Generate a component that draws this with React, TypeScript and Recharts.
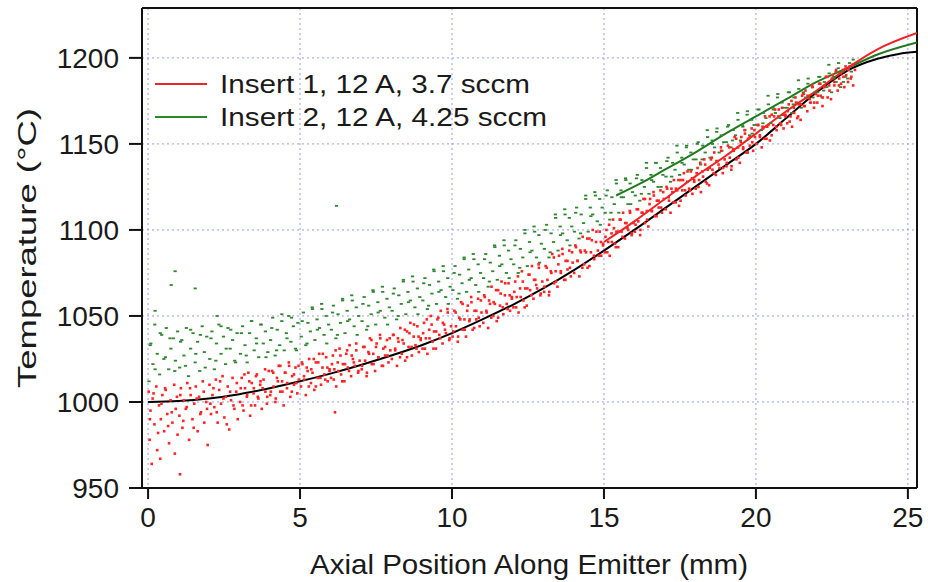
import { ComposedChart, Scatter, Line, XAxis, YAxis, CartesianGrid, ReferenceLine } from 'recharts'

const xTicks = [0, 5, 10, 15, 20, 25]
const yTicks = [950, 1000, 1050, 1100, 1150, 1200]

const seriesNames = ['Insert 1, 12 A, 3.7 sccm', 'Insert 2, 12 A, 4.25 sccm']

// Insert 1 measurements (red cloud)
const insert1Points: [number, number][] = [
  [0.02,1006],[0.05,978],[0.08,995],[0.12,964],[0.15,1002],[0.21,987],[0.27,1009],[0.3,972],[0.36,998],[0.42,990],[0.47,1004],[0.53,983],[0.58,1007],[0.63,993],[0.69,976],[0.74,1001],[0.8,988],[0.86,1010],[0.91,996],[0.97,981],
  [0.4,967],[1.05,958],
  [1.03,992],[1.08,1008],[1.13,985],[1.18,1001],[1.24,996],[1.29,1011],[1.35,978],[1.4,1004],[1.46,990],[1.52,999],[1.57,1009],[1.63,983],[1.68,1003],[1.74,994],[1.8,1012],[1.85,988],[1.91,1000],[1.96,975],
  [2.02,1010],[2.07,993],[2.12,1004],[2.18,997],[2.23,1013],[2.29,988],[2.34,1007],[2.4,999],[2.45,1015],[2.51,991],[2.56,1003],[2.62,1009],[2.67,984],[2.73,1001],[2.78,1014],[2.84,996],[2.9,1006],[2.95,990],
  [3.03,1000],[3.08,1014],[3.14,995],[3.19,1008],[3.25,1003],[3.3,1017],[3.36,992],[3.41,1011],[3.47,1005],[3.52,998],[3.58,1016],[3.63,1002],[3.69,1010],[3.74,996],[3.8,1013],[3.86,1006],[3.91,999],[3.97,1018],
  [4.02,1004],[4.08,1018],[4.13,1009],[4.19,1000],[4.24,1014],[4.3,1021],[4.35,1006],[4.41,1012],[4.46,998],[4.52,1017],[4.57,1008],[4.63,1023],[4.68,1003],[4.74,1015],[4.8,1010],[4.85,1020],[4.91,1005],[4.96,1013],
  [5.03,1009],[5.08,1022],[5.14,1013],[5.19,1004],[5.25,1018],[5.3,1025],[5.36,1011],[5.41,1017],[5.47,1007],[5.52,1023],[5.58,1014],[5.63,1028],[5.69,1010],[5.74,1020],[5.8,1016],[5.86,1026],[5.91,1012],[5.97,1019],
  [6.15,994],
  [6.02,1014],[6.08,1027],[6.13,1019],[6.19,1009],[6.24,1023],[6.3,1031],[6.35,1016],[6.41,1022],[6.46,1012],[6.52,1028],[6.57,1020],[6.63,1033],[6.68,1015],[6.74,1025],[6.8,1021],[6.85,1030],[6.91,1017],[6.96,1024],
  [7.03,1019],[7.08,1032],[7.14,1024],[7.19,1015],[7.25,1029],[7.3,1037],[7.36,1022],[7.41,1028],[7.47,1018],[7.52,1034],[7.58,1026],[7.63,1039],[7.69,1021],[7.74,1031],[7.8,1027],[7.86,1036],[7.91,1023],[7.97,1030],
  [8.02,1025],[8.08,1039],[8.13,1030],[8.19,1021],[8.24,1035],[8.3,1043],[8.35,1028],[8.41,1034],[8.46,1024],[8.52,1041],[8.57,1032],[8.63,1046],[8.68,1027],[8.74,1038],[8.8,1033],[8.86,1044],[8.91,1029],[8.97,1037],
  [9.03,1031],[9.08,1046],[9.14,1037],[9.19,1028],[9.25,1042],[9.3,1050],[9.36,1035],[9.41,1041],[9.47,1031],[9.52,1048],[9.58,1039],[9.63,1053],[9.69,1034],[9.74,1045],[9.8,1040],[9.86,1052],[9.91,1036],[9.97,1044],
  [10.02,1038],[10.08,1053],[10.13,1044],[10.19,1035],[10.24,1049],[10.3,1058],[10.35,1042],[10.41,1048],[10.46,1038],[10.52,1056],[10.57,1047],[10.63,1061],[10.68,1042],[10.74,1053],[10.8,1048],[10.86,1060],[10.91,1044],[10.97,1052],
  [11.03,1046],[11.08,1061],[11.14,1052],[11.19,1043],[11.25,1057],[11.3,1067],[11.36,1050],[11.41,1057],[11.47,1047],[11.52,1065],[11.58,1056],[11.63,1070],[11.69,1051],[11.74,1062],[11.8,1057],[11.86,1069],[11.91,1053],[11.97,1061],
  [12.02,1055],[12.08,1070],[12.13,1061],[12.19,1052],[12.24,1066],[12.3,1076],[12.35,1059],[12.41,1066],[12.46,1056],[12.52,1074],[12.57,1065],[12.63,1079],[12.68,1060],[12.74,1071],[12.8,1066],[12.86,1078],[12.91,1062],[12.97,1070],
  [13.03,1064],[13.08,1079],[13.14,1071],[13.19,1062],[13.25,1076],[13.3,1086],[13.36,1069],[13.41,1076],[13.47,1067],[13.52,1085],[13.58,1076],[13.63,1089],[13.69,1071],[13.74,1082],[13.8,1077],[13.86,1088],[13.91,1073],[13.97,1081],
  [14.02,1075],[14.08,1090],[14.13,1082],[14.19,1073],[14.24,1087],[14.3,1096],[14.35,1080],[14.41,1087],[14.46,1078],[14.52,1095],[14.57,1087],[14.63,1100],[14.68,1083],[14.74,1093],[14.8,1088],[14.86,1099],[14.91,1085],[14.97,1092],
  [15.03,1087],[15.08,1100],[15.14,1093],[15.19,1085],[15.25,1098],[15.3,1106],[15.36,1092],[15.41,1099],[15.47,1090],[15.52,1106],[15.58,1099],[15.63,1110],[15.69,1095],[15.74,1104],[15.8,1100],[15.86,1110],[15.91,1097],[15.97,1104],
  [16.02,1099],[16.08,1112],[16.13,1105],[16.19,1097],[16.24,1110],[16.3,1118],[16.35,1104],[16.41,1111],[16.46,1102],[16.52,1118],[16.57,1111],[16.63,1122],[16.68,1108],[16.74,1117],[16.8,1113],[16.86,1123],[16.91,1110],[16.97,1118],
  [17.03,1112],[17.08,1124],[17.14,1117],[17.19,1110],[17.25,1122],[17.3,1129],[17.36,1116],[17.41,1123],[17.47,1114],[17.52,1129],[17.58,1123],[17.63,1133],[17.69,1120],[17.74,1128],[17.8,1124],[17.86,1134],[17.91,1121],[17.97,1129],
  [18.02,1124],[18.08,1136],[18.13,1129],[18.19,1122],[18.24,1134],[18.3,1141],[18.35,1128],[18.41,1135],[18.46,1126],[18.52,1141],[18.57,1135],[18.63,1145],[18.68,1132],[18.74,1140],[18.8,1136],[18.86,1146],[18.91,1133],[18.97,1141],
  [19.03,1137],[19.08,1149],[19.14,1142],[19.19,1135],[19.25,1147],[19.3,1154],[19.36,1141],[19.41,1148],[19.47,1139],[19.52,1154],[19.58,1148],[19.63,1158],[19.69,1145],[19.74,1153],[19.8,1149],[19.86,1159],[19.91,1146],[19.97,1154],
  [20.02,1150],[20.08,1161],[20.13,1154],[20.19,1148],[20.24,1159],[20.3,1166],[20.35,1153],[20.41,1161],[20.46,1152],[20.52,1167],[20.57,1161],[20.63,1170],[20.68,1158],[20.74,1166],[20.8,1162],[20.86,1171],[20.91,1159],[20.97,1167],
  [21.03,1162],[21.08,1173],[21.14,1166],[21.19,1160],[21.25,1171],[21.3,1177],[21.36,1165],[21.41,1173],[21.47,1164],[21.52,1178],[21.58,1172],[21.63,1181],[21.69,1169],[21.74,1177],[21.8,1174],[21.86,1183],[21.91,1171],[21.97,1179],
  [22.02,1174],[22.08,1185],[22.13,1178],[22.19,1172],[22.25,1183],[22.3,1189],[22.36,1177],[22.41,1184],[22.47,1176],[22.52,1190],[22.58,1184],[22.63,1192],[22.69,1181],[22.74,1188],[22.8,1185],[22.86,1193],[22.91,1183],[22.97,1190],
  [23.03,1186],[23.08,1195],[23.14,1189],[23.2,1184],[23.26,1193],
]

// second pass over the red cloud, the points between the ones above
const insert1More: [number, number][] = [
  [0.06,990],[0.18,1005],[0.33,982],[0.44,999],[0.56,1008],[0.66,986],[0.78,994],[0.88,970],[0.95,1003],
  [1.06,1004],[1.16,989],[1.27,997],[1.38,1008],[1.5,985],[1.6,1002],[1.72,993],[1.83,1006],[1.94,996],
  [2.05,999],[2.15,1008],[2.26,994],[2.37,1012],[2.48,1002],[2.59,987],[2.7,1006],[2.81,998],[2.92,1011],
  [3.05,1008],[3.11,998],[3.17,1016],[3.26,1004],[3.33,1012],[3.39,998],[3.48,1008],[3.55,1015],[3.61,1003],[3.7,1012],[3.77,1008],[3.85,1019],[3.92,1003],
  [4.04,1006],[4.12,1017],[4.2,1002],[4.27,1012],[4.35,1021],[4.42,1006],[4.5,1017],[4.58,1011],[4.64,1021],[4.73,1006],[4.8,1016],[4.88,1011],[4.95,1021],
  [5.06,1023],[5.13,1015],[5.22,1020],[5.29,1009],[5.37,1019],[5.45,1025],[5.52,1009],[5.6,1023],[5.67,1014],[5.75,1028],[5.83,1013],[5.9,1020],[5.97,1018],
  [6.05,1022],[6.11,1013],[6.17,1030],[6.26,1018],[6.33,1027],[6.39,1012],[6.48,1022],[6.55,1030],[6.61,1018],[6.7,1027],[6.77,1023],[6.85,1034],[6.92,1018],
  [7.04,1021],[7.12,1032],[7.2,1017],[7.27,1028],[7.35,1036],[7.42,1022],[7.5,1032],[7.58,1026],[7.64,1037],[7.73,1021],[7.8,1032],[7.88,1027],[7.95,1037],
  [8.06,1039],[8.13,1031],[8.22,1037],[8.29,1026],[8.37,1036],[8.45,1042],[8.52,1026],[8.6,1040],[8.67,1032],[8.75,1045],[8.83,1031],[8.9,1038],[8.97,1036],
  [9.05,1040],[9.11,1031],[9.17,1048],[9.26,1037],[9.33,1045],[9.39,1031],[9.48,1041],[9.55,1049],[9.61,1037],[9.7,1046],[9.77,1042],[9.85,1054],[9.92,1037],
  [10.04,1041],[10.12,1052],[10.2,1038],[10.27,1048],[10.35,1057],[10.42,1042],[10.5,1053],[10.58,1048],[10.64,1058],[10.73,1043],[10.8,1053],[10.88,1049],[10.95,1059],
  [11.06,1062],[11.13,1053],[11.22,1059],[11.29,1049],[11.37,1058],[11.45,1065],[11.52,1049],[11.6,1063],[11.67,1055],[11.75,1069],[11.83,1054],[11.9,1062],[11.97,1060],
  [12.05,1064],[12.11,1055],[12.17,1073],[12.26,1061],[12.33,1070],[12.39,1055],[12.48,1066],[12.55,1074],[12.61,1062],[12.7,1071],[12.77,1068],[12.85,1080],[12.92,1063],
  [13.04,1067],[13.12,1078],[13.2,1064],[13.27,1075],[13.35,1084],[13.42,1070],[13.5,1080],[13.58,1075],[13.64,1086],[13.73,1071],[13.8,1082],[13.88,1078],[13.95,1087],
  [14.06,1091],[14.13,1082],[14.22,1088],[14.29,1078],[14.37,1088],[14.45,1095],[14.52,1079],[14.6,1094],[14.67,1085],[14.75,1099],[14.83,1085],[14.9,1093],[14.97,1091],
  [15.05,1096],[15.11,1087],[15.17,1103],[15.26,1093],[15.33,1101],[15.39,1090],[15.48,1099],[15.55,1106],[15.61,1096],[15.7,1104],[15.77,1101],[15.85,1111],[15.92,1098],
  [16.04,1103],[16.12,1112],[16.2,1100],[16.27,1110],[16.35,1118],[16.42,1106],[16.5,1115],[16.58,1111],[16.64,1120],[16.73,1108],[16.8,1117],[16.88,1113],[16.95,1122],
  [17.06,1125],[17.13,1119],[17.22,1124],[17.29,1116],[17.37,1124],[17.45,1129],[17.52,1117],[17.6,1129],[17.67,1123],[17.75,1134],[17.83,1123],[17.9,1130],[17.97,1128],
  [18.05,1133],[18.11,1125],[18.17,1139],[18.26,1131],[18.33,1138],[18.39,1127],[18.48,1136],[18.55,1142],[18.61,1133],[18.7,1140],[18.77,1138],[18.85,1148],[18.92,1136],
  [19.04,1139],[19.12,1148],[19.2,1137],[19.27,1146],[19.35,1153],[19.42,1142],[19.5,1151],[19.58,1147],[19.64,1156],[19.73,1145],[19.8,1154],[19.88,1151],[19.95,1158],
  [20.06,1161],[20.13,1155],[20.22,1160],[20.29,1153],[20.37,1160],[20.45,1166],[20.52,1155],[20.6,1166],[20.67,1160],[20.75,1170],[20.83,1161],[20.9,1167],[20.97,1166],
  [21.05,1169],[21.11,1163],[21.17,1175],[21.26,1168],[21.33,1174],[21.39,1166],[21.48,1173],[21.55,1179],[21.61,1172],[21.7,1178],[21.77,1176],[21.85,1184],[21.92,1174],
  [22.04,1178],[22.12,1185],[22.2,1177],[22.27,1184],[22.35,1189],[22.42,1181],[22.5,1188],[22.58,1186],[22.64,1193],[22.73,1184],[22.8,1191],[22.88,1189],[22.95,1195],
  [23.05,1193],[23.12,1188],[23.18,1196],
]

// Insert 2 measurements (green cloud)
const insert2Points: [number, number][] = [
  [0.03,1012],[0.09,1034],[0.16,1022],[0.22,1045],[0.3,1028],[0.38,1016],[0.45,1039],[0.52,1025],[0.6,1043],[0.68,1019],[0.75,1031],[0.83,1037],[0.9,1024],[0.97,1041],
  [0.76,1068],[0.89,1076],[1.55,1066],[6.2,1114],[0.23,1053],[2.27,1050],
  [1.04,1020],[1.11,1036],[1.18,1027],[1.26,1043],[1.33,1015],[1.4,1031],[1.48,1040],[1.55,1023],[1.63,1035],[1.7,1018],[1.78,1044],[1.85,1029],[1.93,1038],
  [2.03,1025],[2.1,1041],[2.18,1019],[2.25,1034],[2.33,1045],[2.4,1028],[2.48,1038],[2.55,1022],[2.63,1043],[2.7,1031],[2.78,1036],[2.85,1024],[2.93,1040],
  [3.04,1028],[3.11,1044],[3.19,1033],[3.26,1023],[3.34,1040],[3.41,1047],[3.49,1030],[3.56,1037],[3.64,1026],[3.71,1045],[3.79,1034],[3.86,1041],[3.94,1029],
  [4.03,1036],[4.1,1049],[4.18,1027],[4.25,1042],[4.33,1033],[4.4,1047],[4.48,1030],[4.55,1040],[4.63,1050],[4.7,1035],[4.78,1044],[4.85,1031],[4.93,1046],
  [5.04,1038],[5.11,1052],[5.19,1033],[5.26,1046],[5.34,1041],[5.41,1054],[5.49,1036],[5.56,1048],[5.64,1043],[5.71,1057],[5.79,1039],[5.86,1050],[5.94,1045],
  [6.03,1042],[6.1,1056],[6.18,1037],[6.25,1051],[6.33,1046],[6.4,1059],[6.48,1040],[6.55,1053],[6.63,1048],[6.7,1062],[6.78,1044],[6.85,1055],[6.93,1050],
  [7.04,1047],[7.11,1061],[7.19,1042],[7.26,1056],[7.34,1051],[7.41,1064],[7.49,1045],[7.56,1058],[7.64,1053],[7.71,1067],[7.79,1049],[7.86,1060],[7.94,1055],
  [8.03,1053],[8.1,1066],[8.18,1048],[8.25,1062],[8.33,1057],[8.4,1070],[8.48,1051],[8.55,1064],[8.63,1059],[8.7,1073],[8.78,1055],[8.86,1066],[8.94,1061],
  [9.04,1059],[9.11,1072],[9.19,1054],[9.26,1068],[9.34,1063],[9.41,1076],[9.49,1057],[9.56,1070],[9.64,1065],[9.71,1079],[9.79,1061],[9.86,1072],[9.94,1067],
  [10.03,1065],[10.1,1079],[10.18,1060],[10.25,1074],[10.33,1069],[10.4,1083],[10.48,1064],[10.55,1077],[10.63,1072],[10.7,1086],[10.78,1068],[10.86,1080],[10.94,1075],
  [11.04,1072],[11.11,1086],[11.19,1067],[11.26,1081],[11.34,1076],[11.41,1090],[11.49,1071],[11.56,1085],[11.64,1080],[11.71,1094],[11.79,1075],[11.86,1088],[11.94,1083],
  [12.03,1080],[12.1,1094],[12.18,1075],[12.25,1089],[12.33,1084],[12.4,1098],[12.48,1079],[12.55,1093],[12.63,1088],[12.7,1102],[12.78,1084],[12.86,1097],[12.94,1092],
  [13.04,1089],[13.11,1103],[13.19,1084],[13.26,1098],[13.34,1093],[13.41,1107],[13.49,1088],[13.56,1102],[13.64,1098],[13.71,1112],[13.79,1094],[13.86,1107],[13.94,1102],
  [14.03,1099],[14.1,1113],[14.18,1095],[14.25,1109],[14.33,1104],[14.4,1118],[14.48,1099],[14.55,1113],[14.63,1109],[14.7,1122],[14.78,1105],[14.86,1118],[14.94,1113],
  [15.04,1110],[15.11,1123],[15.19,1106],[15.26,1119],[15.34,1115],[15.41,1127],[15.49,1110],[15.56,1123],[15.64,1119],[15.71,1130],[15.79,1115],[15.86,1127],[15.94,1122],
  [16.03,1120],[16.1,1132],[16.18,1117],[16.25,1129],[16.33,1125],[16.4,1136],[16.48,1121],[16.55,1132],[16.63,1128],[16.7,1139],[16.78,1125],[16.86,1136],[16.94,1132],
  [17.04,1131],[17.11,1142],[17.19,1128],[17.26,1139],[17.34,1135],[17.41,1145],[17.49,1132],[17.56,1142],[17.64,1138],[17.71,1148],[17.79,1135],[17.86,1145],[17.94,1141],
  [18.03,1141],[18.1,1151],[18.18,1138],[18.25,1149],[18.33,1145],[18.41,1154],[18.49,1142],[18.56,1152],[18.64,1148],[18.71,1157],[18.79,1145],[18.86,1155],[18.94,1151],
  [19.03,1151],[19.1,1161],[19.18,1148],[19.25,1158],[19.33,1155],[19.41,1164],[19.49,1152],[19.56,1161],[19.64,1158],[19.71,1167],[19.79,1155],[19.86,1164],[19.94,1161],
  [20.03,1161],[20.1,1170],[20.18,1158],[20.25,1168],[20.33,1165],[20.41,1173],[20.49,1162],[20.56,1171],[20.64,1168],[20.71,1177],[20.79,1165],[20.86,1174],[20.94,1171],
  [21.03,1171],[21.1,1180],[21.18,1168],[21.25,1177],[21.33,1174],[21.41,1182],[21.49,1171],[21.56,1180],[21.64,1177],[21.71,1185],[21.79,1174],[21.86,1183],[21.94,1180],
  [22.03,1180],[22.1,1189],[22.18,1177],[22.25,1186],[22.33,1183],[22.41,1191],[22.49,1180],[22.56,1189],[22.64,1186],[22.71,1194],[22.79,1183],[22.86,1192],[22.94,1189],
  [23.02,1188],[23.08,1197],[23.14,1192],[23.2,1199],
]

const insert2More: [number, number][] = [
  [0.07,1033],[0.23,1019],[0.4,1040],[0.57,1026],[0.72,1037],[0.88,1018],
  [1.07,1035],[1.23,1021],[1.4,1042],[1.57,1028],[1.72,1039],[1.88,1020],
  [2.07,1037],[2.23,1024],[2.4,1044],[2.57,1031],[2.72,1042],[2.88,1023],
  [3.07,1040],[3.23,1027],[3.4,1047],[3.57,1034],[3.72,1045],[3.88,1026],
  [4.07,1043],[4.23,1030],[4.4,1051],[4.57,1037],[4.72,1049],[4.88,1030],
  [5.07,1047],[5.23,1034],[5.4,1055],[5.57,1042],[5.72,1054],[5.88,1034],
  [6.07,1052],[6.23,1039],[6.4,1060],[6.57,1047],[6.72,1059],[6.88,1039],
  [7.07,1057],[7.23,1044],[7.4,1065],[7.57,1052],[7.72,1064],[7.88,1045],
  [8.07,1063],[8.23,1050],[8.4,1071],[8.57,1058],[8.72,1070],[8.88,1051],
  [9.07,1069],[9.23,1056],[9.4,1077],[9.57,1064],[9.72,1076],[9.88,1057],
  [10.07,1075],[10.23,1063],[10.4,1084],[10.57,1071],[10.72,1083],[10.88,1064],
  [11.07,1083],[11.23,1070],[11.4,1091],[11.57,1079],[11.72,1091],[11.88,1072],
  [12.07,1091],[12.23,1078],[12.4,1100],[12.57,1087],[12.72,1099],[12.88,1081],
  [13.07,1100],[13.23,1087],[13.4,1109],[13.57,1097],[13.72,1109],[13.88,1091],
  [14.07,1110],[14.23,1098],[14.4,1120],[14.57,1108],[14.72,1120],[14.88,1103],
  [15.07,1120],[15.23,1110],[15.4,1129],[15.57,1119],[15.72,1129],[15.88,1115],
  [16.07,1130],[16.23,1121],[16.4,1139],[16.57,1129],[16.72,1139],[16.88,1125],
  [17.07,1140],[17.23,1131],[17.4,1149],[17.57,1139],[17.72,1149],[17.88,1135],
  [18.07,1150],[18.23,1141],[18.4,1158],[18.57,1150],[18.72,1159],[18.88,1146],
  [19.07,1160],[19.23,1152],[19.4,1168],[19.57,1160],[19.72,1169],[19.88,1156],
  [20.07,1170],[20.23,1162],[20.4,1178],[20.57,1170],[20.72,1179],[20.88,1167],
  [21.07,1180],[21.23,1173],[21.4,1187],[21.57,1179],[21.72,1188],[21.88,1177],
  [22.07,1189],[22.23,1181],[22.4,1196],[22.57,1188],[22.72,1197],[22.88,1186],
]

// fitted curves
const modelCurve: [number, number][] = [
  [0,1000],[1,1000.5],[2,1002],[3,1004.5],[4,1008],[5,1012],[6,1016.5],[7,1021.5],[8,1027],[9,1033],[10,1040],
  [11,1048],[12,1056.5],[13,1066],[14,1076.5],[15,1088],[16,1100],[17,1112.5],[18,1125],[19,1137.5],[20,1150],
  [21,1165],[22,1180],[23,1192.5],[24,1199.5],[24.7,1202.3],[25.3,1203.5],
]
const insert1Fit: [number, number][] = [
  [15,1093],[16,1105],[17,1118],[18,1131],[19,1143],[20,1156],[21,1169],[22,1181],[23,1194],[24,1205],[25.3,1214.5],
]
const insert2Fit: [number, number][] = [
  [15.4,1120],[16.2,1127],[17,1135],[18,1145],[19,1156],[20,1166],[21,1176],[22,1186],[23,1194],[24,1202],[25.3,1209],
]

const X_DOMAIN: [number, number] = [-0.2, 25.3]
const Y_DOMAIN: [number, number] = [950, 1229]

const RED = '#ff2424'
const GREEN = '#2e862e'
const TEXT = '#1a1a1a'
const FONT = '"Liberation Sans", Arial, sans-serif'

const toXY = (pts: [number, number][]) => pts.map(([x, y]) => ({ x, y }))

const RedDot = (props: any) => (
  <rect x={props.cx - 1.3} y={props.cy - 1.3} width={2.6} height={2.6} fill={RED} />
)
const GreenDot = (props: any) => (
  <rect x={props.cx - 1.6} y={props.cy - 0.9} width={3.2} height={1.8} fill={GREEN} />
)

function LegendOverlay() {
  const colors = ['#e62a2a', '#2a8a2a']
  const widths = [310, 327]
  return (
    <svg width={560} height={140} style={{ position: 'absolute', left: 0, top: 0, pointerEvents: 'none' }}>
      {seriesNames.map((name, i) => (
        <g key={name}>
          <line x1={155} x2={207} y1={84 + i * 33} y2={84 + i * 33} stroke={colors[i]} strokeWidth={2} />
          <text
            x={220}
            y={93 + i * 33}
            fontSize={25}
            fill={TEXT}
            fontFamily={FONT}
            textLength={widths[i]}
            lengthAdjust="spacingAndGlyphs"
          >
            {name}
          </text>
        </g>
      ))}
    </svg>
  )
}

export default function App() {
  const axisStyle = { stroke: '#111', strokeWidth: 2 }
  return (
    <div style={{ position: 'absolute', left: 0, top: 0, width: 928, height: 582, background: '#fff' }}>
      <ComposedChart width={928} height={582} margin={{ top: 8, right: 11, bottom: 0, left: 0 }}>
        <CartesianGrid stroke="#9a9aee" strokeDasharray="2 3" strokeWidth={1} />
        <XAxis
          type="number"
          dataKey="x"
          domain={X_DOMAIN}
          ticks={xTicks}
          allowDataOverflow
          height={94}
          tickSize={11}
          tickMargin={8}
          axisLine={axisStyle}
          tickLine={axisStyle}
          tick={{ fontSize: 28, fill: TEXT, fontFamily: FONT }}
          label={{
            content: () => (
              <text x={529} y={574} textAnchor="middle" fontSize={28} fill={TEXT} fontFamily={FONT} textLength={438} lengthAdjust="spacingAndGlyphs">
                Axial Position Along Emitter (mm)
              </text>
            ),
          }}
        />
        <YAxis
          type="number"
          dataKey="y"
          domain={Y_DOMAIN}
          ticks={yTicks}
          allowDataOverflow
          width={142}
          tickSize={13}
          tickMargin={10}
          axisLine={axisStyle}
          tickLine={axisStyle}
          tick={{ fontSize: 28, fill: TEXT, fontFamily: FONT }}
          label={{
            content: () => (
              <text x={27} y={248} transform="rotate(-90 27 248)" textAnchor="middle" dominantBaseline="central" fontSize={26} fill={TEXT} fontFamily={FONT} textLength={280} lengthAdjust="spacingAndGlyphs">
                Temperature (°C)
              </text>
            ),
          }}
        />
        <ReferenceLine x={X_DOMAIN[1]} stroke="#111" strokeWidth={2} />
        <ReferenceLine y={Y_DOMAIN[1]} stroke="#111" strokeWidth={2} />
        <Scatter data={toXY(insert2Points)} shape={GreenDot} isAnimationActive={false} />
        <Scatter data={toXY(insert2More)} shape={GreenDot} isAnimationActive={false} />
        <Scatter data={toXY(insert1Points)} shape={RedDot} isAnimationActive={false} />
        <Scatter data={toXY(insert1More)} shape={RedDot} isAnimationActive={false} />
        <Line data={toXY(modelCurve)} dataKey="y" type="monotone" stroke="#000" strokeWidth={2} dot={false} isAnimationActive={false} />
        <Line data={toXY(insert2Fit)} dataKey="y" type="monotone" stroke="#1f7a1f" strokeWidth={2} dot={false} isAnimationActive={false} />
        <Line data={toXY(insert1Fit)} dataKey="y" type="monotone" stroke="#ee2222" strokeWidth={2} dot={false} isAnimationActive={false} />
      </ComposedChart>
      <LegendOverlay />
    </div>
  )
}
